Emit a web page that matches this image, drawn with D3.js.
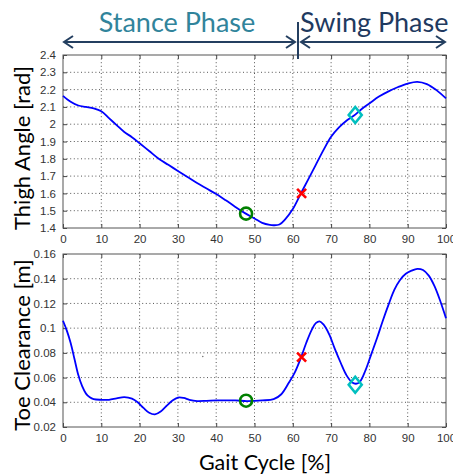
<!DOCTYPE html>
<html>
<head>
<meta charset="utf-8">
<script src="https://cdn.jsdelivr.net/npm/d3@7"></script>
<style>
  body { margin: 0; background: #fff; }
  .tick text { font-family: "Liberation Sans Narrow", "Liberation Sans", Arial, sans-serif; font-size: 11.5px; fill: #333; }
  .title { font-family: Lato, "Open Sans", sans-serif; }
</style>
</head>
<body>
<svg id="chart"></svg>
<script>
// thigh angle curve (gait % , rad)
const thighX = [0, 2, 4, 6, 8, 10, 12, 14, 16, 18, 20, 22.5, 25, 27.5, 30, 32.5, 35, 37.5, 40, 42.5, 45, 47.5, 50, 52, 54, 55, 56.5, 58, 60, 62, 64, 66, 68, 70, 72, 74, 76, 78, 80, 82.5, 85, 87.5, 90, 92.5, 95, 97.5, 100];
const thighY = [2.164, 2.13, 2.108, 2.10, 2.092, 2.075, 2.035, 1.995, 1.955, 1.925, 1.89, 1.845, 1.80, 1.765, 1.73, 1.695, 1.66, 1.628, 1.596, 1.56, 1.522, 1.486, 1.455, 1.43, 1.418, 1.416, 1.42, 1.45, 1.51, 1.595, 1.68, 1.765, 1.85, 1.927, 1.98, 2.02, 2.05, 2.088, 2.12, 2.16, 2.19, 2.215, 2.235, 2.245, 2.232, 2.197, 2.149];

// toe clearance curve (gait %, m)
const toeX = [0, 1, 2, 3, 4, 5, 6, 7, 8, 10, 12, 14, 16, 18, 19.5, 21, 22.5, 24, 25.5, 27, 28.5, 30, 31.5, 33, 35, 37.5, 40, 45, 48, 52, 55, 57, 59, 60.5, 62, 63.5, 65, 66, 67, 68, 69.5, 71, 72.5, 74, 75.5, 76.5, 77.5, 79, 80.5, 82, 83.5, 85, 86.5, 88, 89.5, 91, 92.5, 94, 95.5, 97, 98.5, 100];
const toeY = [0.106, 0.098, 0.088, 0.075, 0.062, 0.053, 0.047, 0.044, 0.0425, 0.042, 0.042, 0.0432, 0.0442, 0.043, 0.040, 0.0355, 0.0315, 0.0302, 0.0325, 0.037, 0.0412, 0.0438, 0.0435, 0.042, 0.041, 0.0412, 0.0415, 0.0415, 0.041, 0.0415, 0.0425, 0.0465, 0.056, 0.064, 0.075, 0.088, 0.099, 0.104, 0.1055, 0.103, 0.095, 0.083, 0.072, 0.062, 0.056, 0.055, 0.0565, 0.066, 0.079, 0.092, 0.106, 0.119, 0.131, 0.139, 0.144, 0.1465, 0.148, 0.147, 0.1425, 0.134, 0.122, 0.108];

// event markers: circle, cross, diamond
const markerX = [47.8, 62.3, 76.3];
const thighMarkY = [1.483, 1.60, 2.053];
const toeMarkY = [0.0413, 0.0766, 0.0542];

const xTicks = d3.range(0, 101, 10);
const thighTicks = [1.4, 1.5, 1.6, 1.7, 1.8, 1.9, 2, 2.1, 2.2, 2.3, 2.4];
const toeTicks = [0.02, 0.04, 0.06, 0.08, 0.1, 0.12, 0.14, 0.16];

const W = 453, H = 476;
const svg = d3.select('#chart').attr('width', W).attr('height', H);

const x = d3.scaleLinear().domain([0, 100]).range([63, 446]);

function panel(top, bottom, domain, ticks, xs, ys, my, label, labelY) {
  const y = d3.scaleLinear().domain(domain).range([bottom, top]);
  const g = svg.append('g');

  // dotted grid
  g.append('g').selectAll('line').data(xTicks.slice(1, -1)).enter().append('line')
    .attr('x1', d => x(d)).attr('x2', d => x(d)).attr('y1', top).attr('y2', bottom)
    .attr('stroke', '#555').attr('stroke-dasharray', '1,2.6');
  g.append('g').selectAll('line').data(ticks.slice(1, -1)).enter().append('line')
    .attr('y1', d => y(d)).attr('y2', d => y(d)).attr('x1', 63).attr('x2', 446)
    .attr('stroke', '#555').attr('stroke-dasharray', '1,2.6');

  // axes, matlab style inner ticks on all four sides
  const ax = (a, tr, showText) => {
    const s = g.append('g').attr('transform', tr).call(a);
    s.select('.domain').remove();
    s.selectAll('.tick line').attr('stroke', '#444');
    if (!showText) s.selectAll('text').remove();
    return s;
  };
  ax(d3.axisBottom(x).tickValues(xTicks).tickSizeInner(-4).tickPadding(7).tickFormat(d3.format('d')), `translate(0,${bottom})`, true);
  ax(d3.axisTop(x).tickValues(xTicks).tickSizeInner(-4), `translate(0,${top})`, false);
  ax(d3.axisLeft(y).tickValues(ticks).tickSizeInner(-4).tickPadding(7).tickFormat(d => d), 'translate(63,0)', true);
  ax(d3.axisRight(y).tickValues(ticks).tickSizeInner(-4), 'translate(446,0)', false);

  g.append('rect').attr('x', 63).attr('y', top).attr('width', 383).attr('height', bottom - top)
    .attr('fill', 'none').attr('stroke', '#555').attr('stroke-width', 1);

  const line = d3.line().x(d => x(d[0])).y(d => y(d[1])).curve(d3.curveCatmullRom);
  g.append('path').datum(xs.map((v, i) => [v, ys[i]]))
    .attr('d', line).attr('fill', 'none').attr('stroke', '#0000ff').attr('stroke-width', 1.8);

  // circle
  g.append('circle').attr('cx', x(markerX[0])).attr('cy', y(my[0])).attr('r', 6)
    .attr('fill', 'none').attr('stroke', '#008000').attr('stroke-width', 2.6);
  // cross
  const cx = x(markerX[1]), cy = y(my[1]), s = 4.5;
  g.append('path').attr('d', `M${cx - s},${cy - s}L${cx + s},${cy + s}M${cx - s},${cy + s}L${cx + s},${cy - s}`)
    .attr('stroke', '#ff0000').attr('stroke-width', 2.6);
  // diamond
  const dx = x(markerX[2]), dy = y(my[2]);
  g.append('path').attr('d', `M${dx},${dy - 8}L${dx + 6.5},${dy}L${dx},${dy + 8}L${dx - 6.5},${dy}Z`)
    .attr('fill', 'none').attr('stroke', '#00bfbf').attr('stroke-width', 2.6);

  svg.append('text').attr('class', 'title')
    .attr('transform', `translate(30,${labelY}) rotate(-90)`)
    .attr('text-anchor', 'middle').style('font-size', '22px').attr('fill', '#000')
    .text(label);
  return y;
}

const yThigh = panel(55, 228, [1.4, 2.4], thighTicks, thighX, thighY, thighMarkY, 'Thigh Angle [rad]', 148);
const yToe = panel(254, 427, [0.02, 0.16], toeTicks, toeX, toeY, toeMarkY, 'Toe Clearance [m]', 345);

// stray dot in the lower plot
svg.append('circle').attr('cx', x(36.5)).attr('cy', yToe(0.077)).attr('r', 0.7).attr('fill', '#666');

svg.append('text').attr('class', 'title')
  .attr('x', 265).attr('y', 470).attr('text-anchor', 'middle')
  .style('font-size', '21.5px').attr('fill', '#000').text('Gait Cycle [%]');

// phase arrows
const split = 298, arrowY = 42, navy = '#243f60';
const arrows = svg.append('g').attr('stroke', navy).attr('stroke-width', 2).attr('fill', 'none');
arrows.append('line').attr('x1', 64).attr('x2', 295).attr('y1', arrowY).attr('y2', arrowY);
arrows.append('line').attr('x1', 301).attr('x2', 445).attr('y1', arrowY).attr('y2', arrowY);
arrows.append('line').attr('x1', split).attr('x2', split).attr('y1', 22).attr('y2', 59);
const head = (tx, dir) => arrows.append('path')
  .attr('d', `M${tx + dir * 9},${arrowY - 6}L${tx},${arrowY}L${tx + dir * 9},${arrowY + 6}`);
head(64, 1); head(295, -1); head(301, 1); head(445, -1);

svg.append('text').attr('class', 'title').attr('x', 177).attr('y', 32)
  .attr('text-anchor', 'middle').style('font-size', '27px').attr('fill', '#31849b').text('Stance Phase');
svg.append('text').attr('class', 'title').attr('x', 300).attr('y', 32)
  .style('font-size', '27px').attr('fill', '#1f3a5f').text('Swing Phase');
</script>
</body>
</html>
